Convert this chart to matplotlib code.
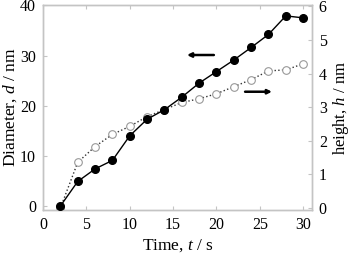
import numpy as np
import matplotlib
matplotlib.use('Agg')
from matplotlib import pyplot as plt

plt.rcParams['font.family'] = 'Liberation Serif'
plt.rcParams['mathtext.fontset'] = 'custom'
plt.rcParams['mathtext.it'] = 'Liberation Serif:italic'
plt.rcParams['mathtext.rm'] = 'Liberation Serif'

# time points and measured values
t = [2, 4, 6, 8, 10, 12, 14, 16, 18, 20, 22, 24, 26, 28, 30]
diameter = [0.0, 4.9, 7.4, 9.1, 14.0, 17.3, 19.2, 21.7, 24.5, 26.8, 29.1, 31.6, 34.2, 37.9, 37.5]
height = [0.0, 1.36, 1.83, 2.19, 2.43, 2.72, 2.93, 3.14, 3.25, 3.40, 3.61, 3.82, 4.08, 4.11, 4.29]

frame = '#c4c4c4'

fig = plt.figure(figsize=(3.5, 2.54), dpi=100)
ax = fig.add_axes([0.123, 0.173, 0.768, 0.806])
ax2 = ax.twinx()

ax2.plot(t, height, ':', color='#333333', lw=1, marker='o', ms=5.5,
         mfc='white', mec='#999999', mew=0.8, zorder=2)
ax.plot(t, diameter, '-', color='black', lw=1, marker='o', ms=5.5,
        mfc='black', mec='black', zorder=3)
ax.set_zorder(ax2.get_zorder() + 1)
ax.patch.set_visible(False)

ax.set_xlim(0, 31)
ax.set_ylim(-0.8, 40)
ax2.set_ylim(-0.06, 6.03)
ax.set_xticks([0, 5, 10, 15, 20, 25, 30])
ax.set_yticks([0, 10, 20, 30, 40])
ax2.set_yticks([0, 1, 2, 3, 4, 5, 6])

for a in (ax, ax2):
    for s in a.spines.values():
        s.set_color(frame)
        s.set_linewidth(1)
ax.tick_params(axis='both', direction='in', length=3, color=frame, labelsize=11.5, top=True, pad=5)
ax2.tick_params(axis='y', direction='in', length=3, color=frame, labelsize=11.5, pad=5)

ax.set_xlabel('Time, $t$ / s', fontsize=12.5, labelpad=3)
ax.set_ylabel('Diameter, $d$ / nm', fontsize=12.5, labelpad=1)
ax2.set_ylabel('height, $h$ / nm', fontsize=12, labelpad=3)

# direction arrows
ax.annotate('', xy=(16.6, 30.1), xytext=(19.7, 30.1),
            arrowprops=dict(arrowstyle='-|>', color='black', lw=1.8, mutation_scale=6,
                            shrinkA=0, shrinkB=0))
ax2.annotate('', xy=(26.4, 3.46), xytext=(23.3, 3.46),
             arrowprops=dict(arrowstyle='-|>', color='black', lw=1.8, mutation_scale=6,
                             shrinkA=0, shrinkB=0))

plt.savefig('out.png', dpi=100)
